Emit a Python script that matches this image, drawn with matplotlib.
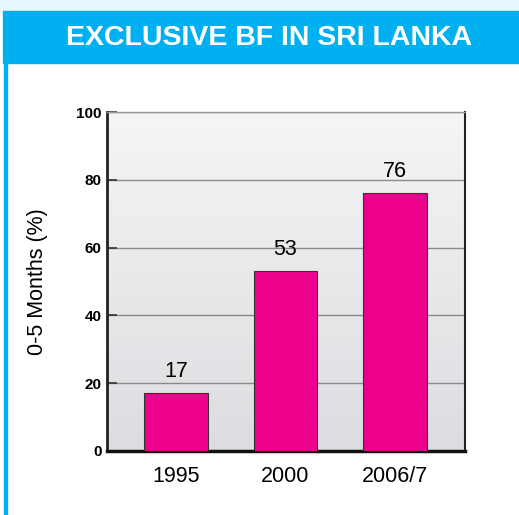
import numpy as np
import matplotlib.pyplot as plt
from matplotlib.patches import Rectangle
from matplotlib.colors import LinearSegmentedColormap

plt.rcParams['font.family'] = ['Liberation Sans', 'DejaVu Sans']

years = ['1995', '2000', '2006/7']
values = [17, 53, 76]
title = 'EXCLUSIVE BF IN SRI LANKA'
ylabel = '0-5 Months (%)'

fig = plt.figure(figsize=(5.19, 5.15), dpi=100)

# frame / header
fig.add_artist(Rectangle((0, 0), 1, 1, transform=fig.transFigure, color='white', zorder=-10))
fig.add_artist(Rectangle((0, 1 - 11 / 515), 1, 11 / 515, transform=fig.transFigure,
                         color='#e8f6fd', zorder=-9))
fig.add_artist(Rectangle((3 / 519, 1 - 63 / 515), 1, 52 / 515, transform=fig.transFigure,
                         color='#00b0f0', zorder=-8))
fig.add_artist(Rectangle((4 / 519, 0), 3 / 519, 1 - 63 / 515, transform=fig.transFigure,
                         color='#00b0f0', zorder=-8))
fig.text(269 / 519, 1 - 38 / 515, title, color='white', fontsize=20.5, fontweight='bold',
         ha='center', va='center')

ax = fig.add_axes([107 / 519, 64 / 515, 358 / 519, 339 / 515])
x = np.arange(len(years))

# gradient background
grad = np.linspace(0, 1, 100).reshape(-1, 1)
cmap = LinearSegmentedColormap.from_list('g', ['#dcdde0', '#f4f5f5'])
ax.imshow(grad, extent=[-0.63, 2.64, 0, 100], aspect='auto', zorder=0,
          cmap=cmap, origin='lower')

ax.bar(x, values, width=0.58, color='#ec008c', edgecolor='#333333', linewidth=0.8, zorder=3)
for xi, v in zip(x, values):
    ax.annotate(str(v), (xi, v), xytext=(0, 8), textcoords='offset points',
                ha='center', va='bottom', fontsize=15.5)

ax.set_xlim(-0.63, 2.64)
ax.set_ylim(0, 100)
ax.set_yticks([0, 20, 40, 60, 80, 100])
ax.set_xticks(x)
ax.set_xticklabels(years, fontsize=15.5)
ax.tick_params(axis='x', length=0, pad=11)
ax.tick_params(axis='y', direction='in', length=7, width=1.2, color='#333333', pad=4,
               labelsize=11)
for lbl in ax.get_yticklabels():
    lbl.set_fontweight('bold')
ax.grid(axis='y', color='#8a8a8a', linewidth=1.0, zorder=1)
ax.set_axisbelow(True)

ax.spines['left'].set_linewidth(2)
ax.spines['left'].set_color('#222222')
ax.spines['bottom'].set_linewidth(2.5)
ax.spines['bottom'].set_color('#111111')
ax.spines['right'].set_linewidth(1.5)
ax.spines['right'].set_color('#222222')
ax.spines['top'].set_linewidth(1)
ax.spines['top'].set_color('#999999')

fig.text(38 / 519, (515 - 282) / 515, ylabel, rotation=90, ha='center', va='center',
         fontsize=15.5)

fig.savefig('out.png', dpi=100)
